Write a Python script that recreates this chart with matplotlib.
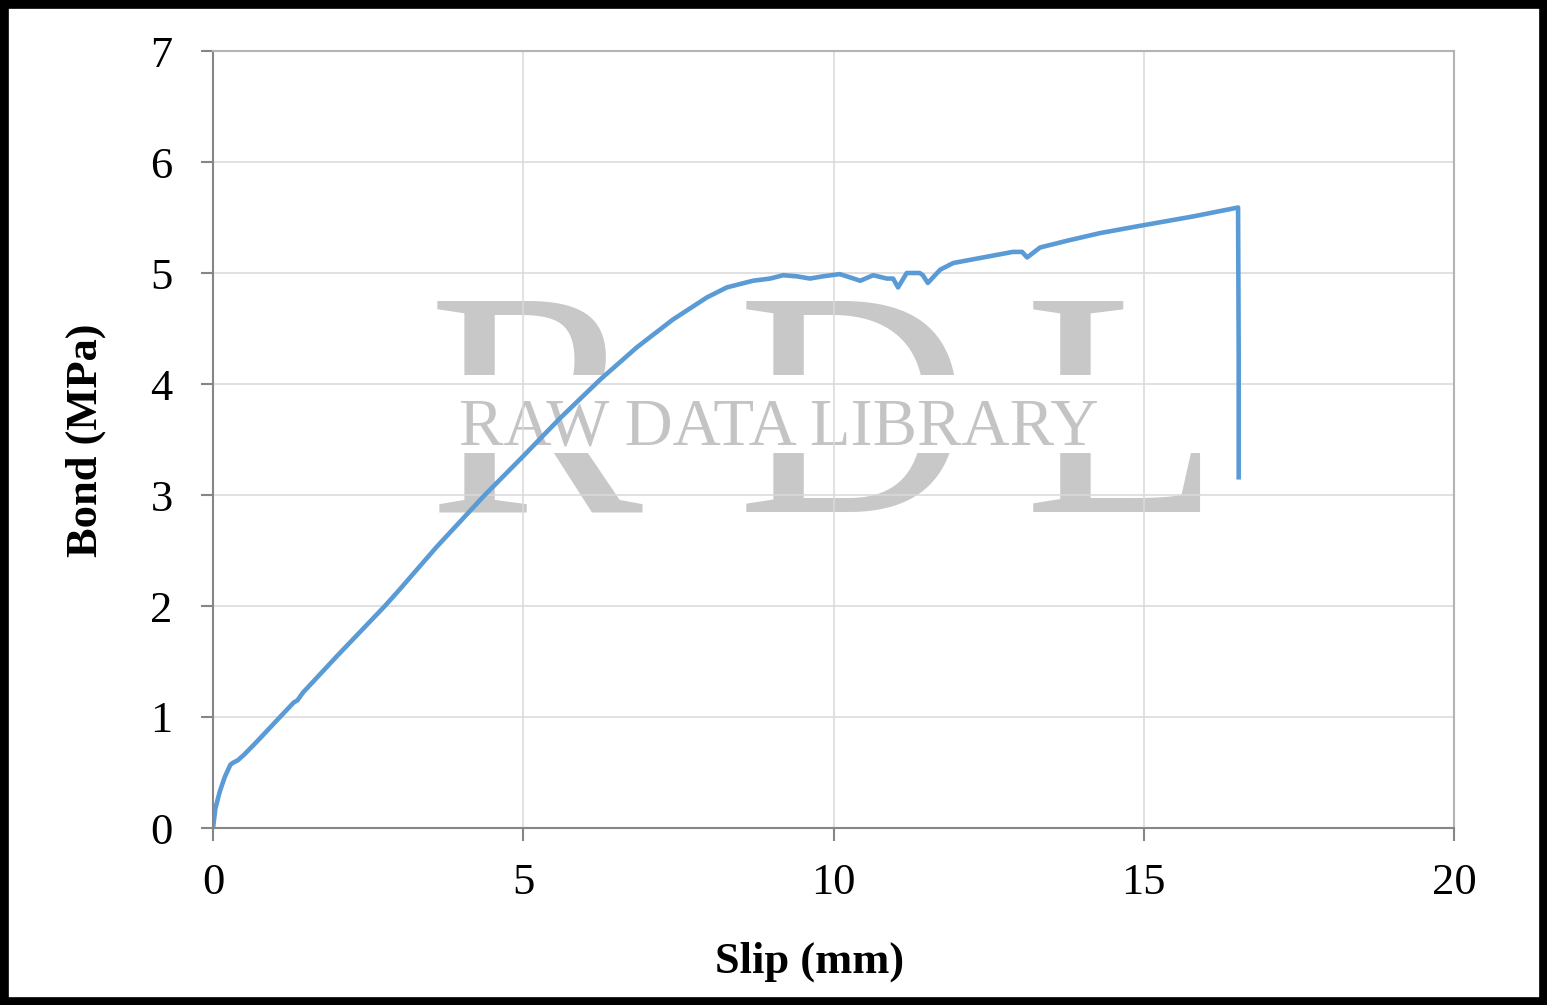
import matplotlib.pyplot as plt
from matplotlib.patches import Rectangle

# slip (mm) / bond (MPa)
slip = [0, 0.04, 0.11, 0.19, 0.28, 0.33, 0.40, 0.50, 0.71, 1.08, 1.30, 1.36,
        1.45, 2.0, 2.77, 3.01, 3.6, 4.38, 5.0, 5.59, 6.24, 6.83, 7.41, 7.96,
        8.28, 8.70, 8.98, 9.19, 9.41, 9.62, 9.83, 10.10, 10.27, 10.43, 10.64,
        10.86, 10.96, 11.04, 11.18, 11.39, 11.44, 11.52, 11.72, 11.93, 12.41,
        12.89, 13.04, 13.12, 13.33, 13.76, 14.30, 14.99, 15.8, 16.52, 16.53,
        16.53]
bond = [0, 0.18, 0.33, 0.46, 0.57, 0.59, 0.61, 0.66, 0.78, 1.00, 1.13, 1.15,
        1.22, 1.55, 2.0, 2.15, 2.53, 3.0, 3.35, 3.69, 4.04, 4.33, 4.58, 4.78,
        4.87, 4.93, 4.95, 4.98, 4.97, 4.95, 4.97, 4.99, 4.96, 4.93, 4.98,
        4.95, 4.95, 4.87, 5.00, 5.00, 4.98, 4.91, 5.03, 5.09, 5.14,
        5.19, 5.19, 5.14, 5.23, 5.29, 5.36, 5.43, 5.51, 5.59, 4.3,
        3.16]

xticks = [0, 5, 10, 15, 20]
yticks = [0, 1, 2, 3, 4, 5, 6, 7]

W, H = 1547, 1005
fig = plt.figure(figsize=(W / 100, H / 100), dpi=100)
ax = fig.add_axes([213 / W, 1 - 828 / H, (1454 - 213) / W, (828 - 51) / H])

serif = 'Liberation Serif'

# watermark: big letters split by a white band holding the small text
wm = '#c8c8c8'
for letter, px in [('R', 535), ('D', 853), ('L', 1122)]:
    ax.text(px / W, 1 - 512 / H, letter, transform=fig.transFigure,
            ha='center', va='baseline', fontsize=232, family=serif,
            color=wm, zorder=0.1)
ax.add_patch(Rectangle((420 / W, 1 - 453 / H), 820 / W, 78 / H,
                       transform=fig.transFigure, facecolor='white',
                       edgecolor='none', zorder=0.2))
ax.text(779 / W, 1 - 445 / H, 'RAW DATA LIBRARY', transform=fig.transFigure,
        ha='center', va='baseline', fontsize=48, family=serif,
        color='#c4c4c4', zorder=0.3)

ax.plot(slip, bond, color='#5b9bd5', lw=3.3, zorder=2, solid_joinstyle='round')

ax.set_xlim(0, 20)
ax.set_ylim(0, 7)
ax.set_xticks(xticks)
ax.set_yticks(yticks)
ax.set_axisbelow(True)
ax.grid(True, color='#d9d9d9', lw=1.1)

for s in ['left', 'bottom']:
    ax.spines[s].set_color('#868686')
    ax.spines[s].set_linewidth(1.5)
for s in ['top', 'right']:
    ax.spines[s].set_color('#b4b4b4')
    ax.spines[s].set_linewidth(1.5)

ax.tick_params(axis='both', direction='out', length=9, width=1.5,
               color='#868686', labelsize=32)
ax.tick_params(axis='y', pad=20)
ax.tick_params(axis='x', pad=16)
ax.tick_params(top=False, right=False)
for lab in ax.get_xticklabels() + ax.get_yticklabels():
    lab.set_family(serif)

fig.text(810 / W, 1 - 962 / H, 'Slip (mm)', ha='center', va='center',
         fontsize=32, fontweight='bold', family=serif)
fig.text(86 / W, 1 - 440 / H, 'Bond (MPa)', ha='center', va='center',
         rotation=90, fontsize=32, fontweight='bold', family=serif)

# black frame around the whole picture
fig.patches.append(Rectangle((0, 0), 1, 1, transform=fig.transFigure,
                             fill=False, edgecolor='black', lw=12))

fig.savefig('out.png', dpi=100)
